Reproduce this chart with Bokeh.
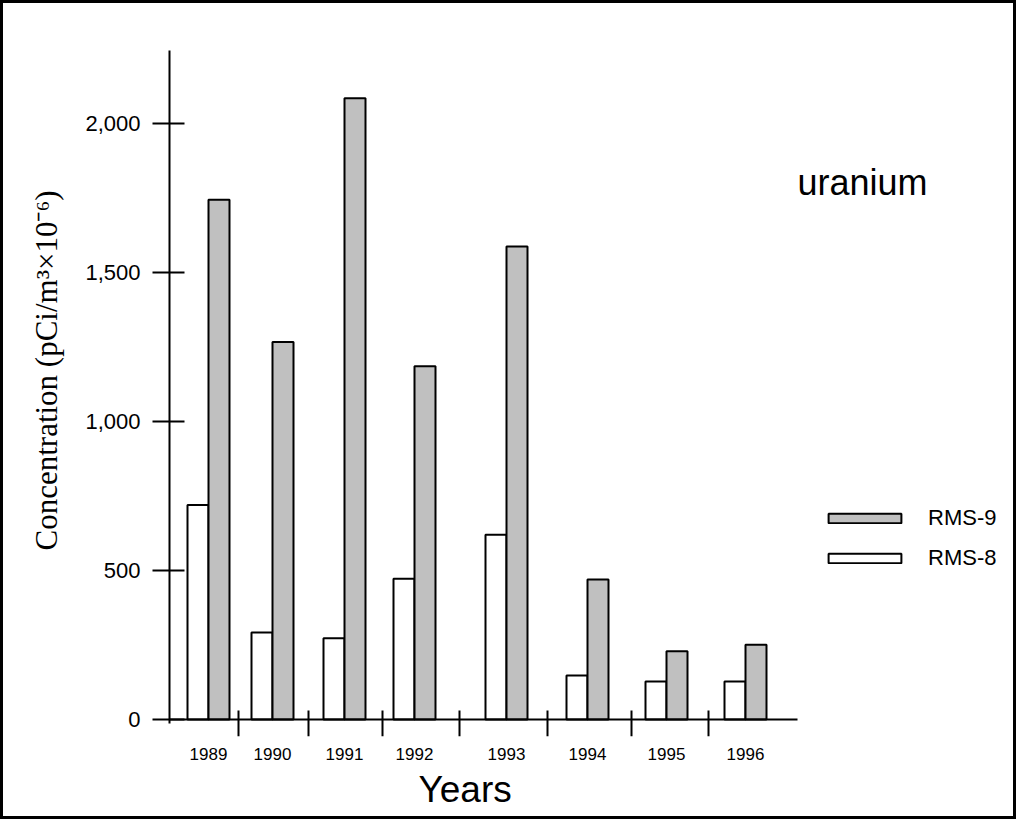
from bokeh.plotting import figure
from bokeh.models import (Range1d, FixedTicker, NumeralTickFormatter, Label, Legend,
                          LegendItem, ColumnDataSource, Title)
from bokeh.embed import file_html
from bokeh.resources import INLINE

# ---- data ----
years = ["1989", "1990", "1991", "1992", "1993", "1994", "1995", "1996"]
rms8 = [720, 292, 273, 473, 620, 148, 128, 128]
rms9 = [1745, 1267, 2086, 1186, 1588, 470, 229, 251]
y_ticks = [0, 500, 1000, 1500, 2000]

# ---- layout (x in frame pixel units) ----
group_centers = [39, 103, 175, 245, 337, 418, 497, 576]
separators = [69, 139, 213, 290, 378, 462, 539]
bar_w = 21
axis_len = 628
x_end = 850

p = figure(width=1016, height=819, output_backend="svg", toolbar_location=None,
           x_range=Range1d(0, x_end), y_range=Range1d(-57, 2246),
           min_border_left=166, min_border_right=0, min_border_top=47, min_border_bottom=86)
p.styles = {"border": "3px solid black"}
p.xgrid.visible = False
p.ygrid.visible = False
p.outline_line_color = None
p.background_fill_color = "white"
p.border_fill_color = "white"

src = ColumnDataSource(dict(
    xw=[c - bar_w / 2 for c in group_centers],
    xg=[c + bar_w / 2 for c in group_centers],
    r8=rms8, r9=rms9))

r_w = p.vbar(x="xw", top="r8", bottom=0, width=bar_w, source=src,
             fill_color="white", line_color="black", line_width=2)
r_g = p.vbar(x="xg", top="r9", bottom=0, width=bar_w, source=src,
             fill_color="#c0c0c0", line_color="black", line_width=2)

# x axis baseline and separators
p.segment(x0=[0], y0=[0], x1=[axis_len], y1=[0], line_color="black", line_width=2)
p.segment(x0=separators, y0=[30] * len(separators), x1=separators, y1=[-57] * len(separators),
          line_color="black", line_width=2)

# y axis
ya = p.yaxis[0]
ya.ticker = FixedTicker(ticks=y_ticks)
ya.formatter = NumeralTickFormatter(format="0,0")
ya.bounds = (-15, 2246)
ya.axis_line_color = "black"
ya.axis_line_width = 2
ya.major_tick_line_color = "black"
ya.major_tick_line_width = 2
ya.major_tick_in = 15
ya.major_tick_out = 17
ya.minor_tick_line_color = None
ya.major_label_standoff = 12
ya.major_label_text_font = "Liberation Sans"
ya.major_label_text_font_size = "22px"
ya.major_label_text_color = "black"

p.add_layout(Title(text="Concentration (pCi/m³×10⁻⁶)", align="left", offset=186,
                   text_font="Liberation Serif", text_font_size="31px",
                   text_font_style="normal", text_color="black", standoff=38), "left")

# x axis (labels only)
xa = p.xaxis[0]
xa.ticker = FixedTicker(ticks=group_centers)
xa.major_label_overrides = {c: y for c, y in zip(group_centers, years)}
xa.axis_line_color = None
xa.major_tick_line_color = None
xa.minor_tick_line_color = None
xa.major_label_standoff = 5
xa.major_label_text_font = "Liberation Sans"
xa.major_label_text_font_size = "17px"
xa.major_label_text_color = "black"

p.add_layout(Title(text="Years", align="left", offset=249,
                   text_font="Liberation Sans", text_font_size="37px",
                   text_font_style="normal", text_color="black", standoff=8), "below")

# annotation text
p.add_layout(Label(x=628, y=1803, text="uranium", text_font="Liberation Sans",
                   text_font_size="36px", text_baseline="middle", text_color="black"))

legend = Legend(items=[LegendItem(label="RMS-9", renderers=[r_g]),
                       LegendItem(label="RMS-8", renderers=[r_w])],
                location=(650, 165), glyph_width=91, glyph_height=12,
                label_standoff=18, label_text_font="Liberation Sans",
                label_text_font_size="22px", label_text_color="black",
                spacing=14, padding=0, margin=0,
                border_line_color=None, background_fill_alpha=0)
p.add_layout(legend)

open("out.html", "w").write(file_html(p, INLINE))
